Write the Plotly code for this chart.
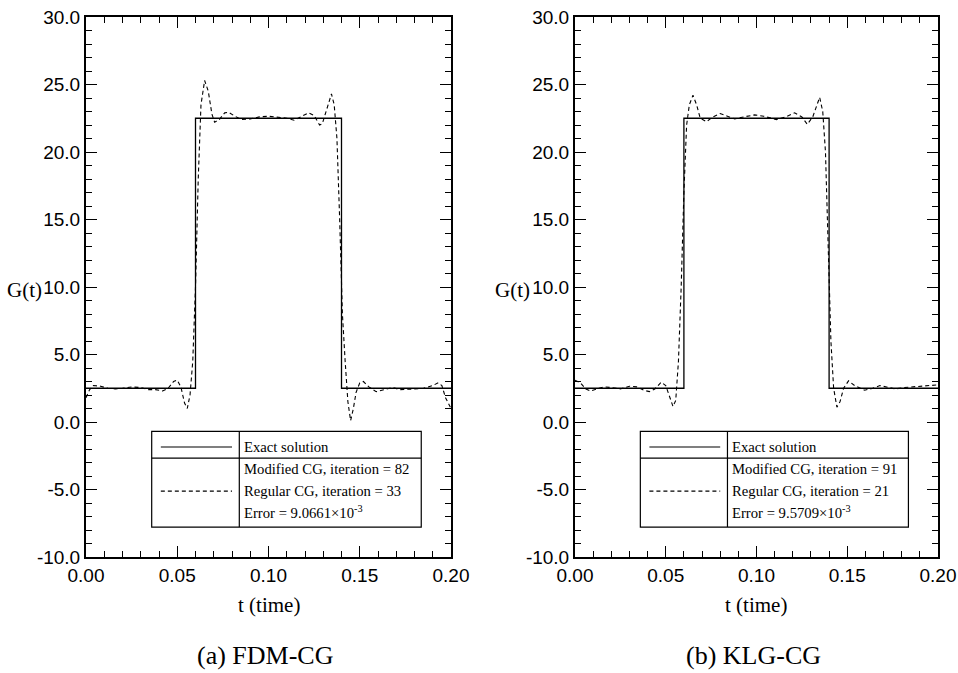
import plotly.graph_objects as go

# ---------------- data ----------------
exact_t = [0.0, 0.06, 0.06, 0.14, 0.14, 0.20]
exact_g = [2.5, 2.5, 22.5, 22.5, 2.5, 2.5]

fdm_t = [0.000, 0.002, 0.004, 0.008, 0.012, 0.016, 0.020, 0.025, 0.030, 0.034,
         0.038, 0.042, 0.045, 0.048, 0.050, 0.052, 0.054, 0.0555, 0.057, 0.0585,
         0.060, 0.0615, 0.063, 0.065, 0.067, 0.069, 0.0705, 0.073, 0.076, 0.078,
         0.081, 0.085, 0.090, 0.095, 0.100, 0.105, 0.110, 0.114, 0.118, 0.122,
         0.125, 0.128, 0.1295, 0.132, 0.1345, 0.136, 0.1375, 0.139, 0.1405, 0.142,
         0.1435, 0.145, 0.1465, 0.148, 0.150, 0.152, 0.155, 0.159, 0.163, 0.168,
         0.172, 0.176, 0.180, 0.185, 0.190, 0.193, 0.195, 0.197, 0.200]
fdm_g = [1.8, 2.4, 2.7, 2.65, 2.5, 2.45, 2.5, 2.6, 2.55, 2.4,
         2.4, 2.3, 2.5, 3.0, 3.1, 2.6, 1.4, 1.0, 2.0, 4.5,
         10.0, 18.0, 23.5, 25.3, 24.5, 22.8, 22.2, 22.4, 22.9, 22.95,
         22.7, 22.4, 22.45, 22.6, 22.65, 22.6, 22.5, 22.35, 22.6, 22.9,
         22.7, 22.0, 22.1, 23.2, 24.3, 23.5, 21.0, 15.0, 8.0, 4.5,
         1.5, 0.1, 1.0, 2.2, 2.9, 3.0, 2.6, 2.25, 2.4, 2.55,
         2.4, 2.4, 2.45, 2.5, 2.7, 2.9, 2.7, 1.8, 1.0]

klg_t = [0.000, 0.003, 0.006, 0.0085, 0.012, 0.016, 0.020, 0.025, 0.030, 0.034,
         0.038, 0.041, 0.044, 0.0475, 0.050, 0.052, 0.054, 0.0555, 0.057, 0.0585,
         0.060, 0.0615, 0.063, 0.065, 0.067, 0.069, 0.0725, 0.076, 0.080, 0.084,
         0.088, 0.093, 0.099, 0.104, 0.111, 0.116, 0.121, 0.125, 0.128, 0.131,
         0.1348, 0.1365, 0.138, 0.1395, 0.141, 0.1425, 0.1443, 0.146, 0.148, 0.1507,
         0.154, 0.1596, 0.164, 0.168, 0.172, 0.1765, 0.181, 0.186, 0.190, 0.195, 0.200]
klg_g = [3.1, 2.9, 2.45, 2.3, 2.45, 2.6, 2.55, 2.45, 2.65, 2.6,
         2.35, 2.25, 2.45, 2.95, 2.7, 1.9, 1.15, 1.6, 4.5, 10.0,
         17.0, 22.0, 23.5, 24.2, 23.5, 22.5, 22.25, 22.6, 22.85, 22.65,
         22.45, 22.6, 22.75, 22.65, 22.4, 22.6, 22.9, 22.6, 22.05, 22.6,
         24.05, 23.0, 20.0, 13.0, 6.0, 2.5, 1.1, 1.5, 2.5, 3.05,
         2.7, 2.35, 2.5, 2.7, 2.6, 2.45, 2.55, 2.6, 2.6, 2.7, 2.75]

y_ticks = [-10, -5, 0, 5, 10, 15, 20, 25, 30]
y_tick_labels = ["-10.0", "-5.0", "0.0", "5.0", "10.0", "15.0", "20.0", "25.0", "30.0"]
x_ticks = [0.0, 0.05, 0.10, 0.15, 0.20]
x_tick_labels = ["0.00", "0.05", "0.10", "0.15", "0.20"]

panels = [
    dict(name="(a) FDM-CG", t=fdm_t, g=fdm_g,
         lines=["Exact solution", "Modified CG, iteration = 82",
                "Regular CG, iteration = 33", "Error = 9.0661×10<sup>-3</sup>"]),
    dict(name="(b) KLG-CG", t=klg_t, g=klg_g,
         lines=["Exact solution", "Modified CG, iteration = 91",
                "Regular CG, iteration = 21", "Error = 9.5709×10<sup>-3</sup>"]),
]

W, H = 958, 673
x_domains = [[86 / W, 451 / W], [575 / W, 938 / W]]
y_domain = [1 - 557 / H, 1 - 17 / H]

SANS = "Liberation Sans, Arial, Helvetica, sans-serif"
SERIF = "Liberation Serif, Times New Roman, serif"

fig = go.Figure()
shapes = []
annotations = []
layout_axes = {}

for i, p in enumerate(panels):
    xa = "x" if i == 0 else "x2"
    ya = "y" if i == 0 else "y2"
    fig.add_trace(go.Scatter(x=exact_t, y=exact_g, mode="lines", xaxis=xa, yaxis=ya,
                             line=dict(color="black", width=1.3), showlegend=False))
    fig.add_trace(go.Scatter(x=p["t"], y=p["g"], mode="lines", xaxis=xa, yaxis=ya,
                             line=dict(color="black", width=1.1, dash="4px,3px"),
                             showlegend=False))

    common = dict(showline=True, linecolor="black", linewidth=2, mirror="allticks",
                  ticks="inside", tickcolor="black", tickwidth=1.3, ticklen=11,
                  showgrid=False, zeroline=False, automargin=False,
                  tickfont=dict(family=SANS, size=19, color="black"))
    xminor = dict(dtick=0.01, tick0=0, ticks="inside", ticklen=6,
                  tickcolor="black", tickwidth=1.2, showgrid=False)
    yminor = dict(dtick=1, tick0=0, ticks="inside", ticklen=6,
                  tickcolor="black", tickwidth=1.2, showgrid=False)
    xkey = "xaxis" if i == 0 else "xaxis2"
    ykey = "yaxis" if i == 0 else "yaxis2"
    layout_axes[xkey] = dict(common, domain=x_domains[i], range=[0, 0.2], anchor=ya,
                             tickvals=x_ticks, ticktext=x_tick_labels, minor=xminor)
    layout_axes[ykey] = dict(common, domain=y_domain, range=[-10, 30], anchor=xa,
                             tickvals=y_ticks, ticktext=y_tick_labels, minor=yminor)

    # legend box drawn in data coordinates of each panel
    x0, x1, xd = 0.036, 0.1837, 0.084
    y0, y1, yd = -0.69, -7.78, -2.68
    shapes += [
        dict(type="rect", xref=xa, yref=ya, x0=x0, x1=x1, y0=y0, y1=y1,
             line=dict(color="black", width=1.2), fillcolor="white", layer="above"),
        dict(type="line", xref=xa, yref=ya, x0=xd, x1=xd, y0=y0, y1=y1,
             line=dict(color="black", width=1.2)),
        dict(type="line", xref=xa, yref=ya, x0=x0, x1=x1, y0=yd, y1=yd,
             line=dict(color="black", width=1.2)),
        dict(type="line", xref=xa, yref=ya, x0=0.041, x1=0.080, y0=-1.85, y1=-1.85,
             line=dict(color="black", width=1.2)),
        dict(type="line", xref=xa, yref=ya, x0=0.041, x1=0.080, y0=-5.12, y1=-5.12,
             line=dict(color="black", width=1.1, dash="4px,3px")),
    ]
    for txt, yy in zip(p["lines"], [-1.86, -3.47, -5.12, -6.70]):
        annotations.append(dict(text=txt, xref=xa, yref=ya, x=0.0855, y=yy,
                                xanchor="left", yanchor="middle", showarrow=False,
                                font=dict(family=SERIF, size=14.7, color="black")))

    # axis titles & captions
    cx = (x_domains[i][0] + x_domains[i][1]) / 2
    annotations.append(dict(text="t (time)", xref="paper", yref="paper", x=cx,
                            y=1 - 605 / H, xanchor="center", yanchor="middle",
                            showarrow=False,
                            font=dict(family=SERIF, size=21, color="black")))
    annotations.append(dict(text=p["name"], xref="paper", yref="paper", x=cx - 0.003,
                            y=1 - 655 / H, xanchor="center", yanchor="middle",
                            showarrow=False,
                            font=dict(family=SERIF, size=26, color="black")))
    gx = 44 / W if i == 0 else 532 / W
    annotations.append(dict(text="G(t)", xref="paper", yref="paper", x=gx,
                            y=1 - 290 / H, xanchor="right", yanchor="middle",
                            showarrow=False,
                            font=dict(family=SERIF, size=21, color="black")))

fig.update_layout(width=W, height=H, margin=dict(l=0, r=0, t=0, b=0),
                  paper_bgcolor="white", plot_bgcolor="white",
                  shapes=shapes, annotations=annotations, showlegend=False,
                  **layout_axes)

fig.write_html("out.html")
